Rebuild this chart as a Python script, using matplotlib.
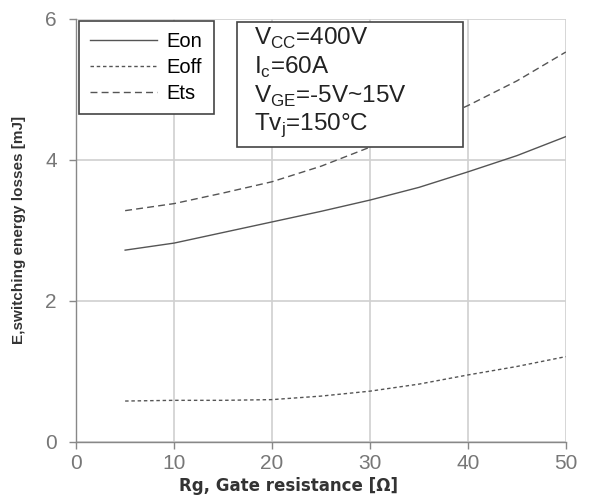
import numpy as np
import matplotlib.pyplot as plt
from matplotlib.patches import Rectangle

# gate resistance [ohm]
rg = [5, 10, 15, 20, 25, 30, 35, 40, 45, 50]
# switching energies [mJ]
eon = [2.72, 2.82, 2.97, 3.12, 3.27, 3.43, 3.61, 3.83, 4.06, 4.33]
eoff = [0.58, 0.59, 0.59, 0.60, 0.65, 0.72, 0.82, 0.95, 1.07, 1.21]
ets = [3.28, 3.38, 3.53, 3.69, 3.91, 4.18, 4.46, 4.77, 5.12, 5.53]

xticks = [0, 10, 20, 30, 40, 50]
yticks = [0, 2, 4, 6]

plt.rcParams['font.family'] = ['Liberation Sans', 'DejaVu Sans']
plt.rcParams['mathtext.fontset'] = 'custom'
plt.rcParams['mathtext.rm'] = 'Liberation Sans'

fig = plt.figure(figsize=(5.95, 4.96), dpi=100)
ax = fig.add_axes([0.128, 0.109, 0.823, 0.853])

lc = '#555555'
ax.plot(rg, eon, color=lc, lw=1.0, ls='-', label='Eon')
ax.plot(rg, eoff, color=lc, lw=1.0, ls=(0, (2.5, 2)), label='Eoff')
ax.plot(rg, ets, color=lc, lw=1.0, ls=(0, (5, 3)), label='Ets')

ax.set_xlim(0, 50)
ax.set_ylim(0, 6)
ax.set_xticks(xticks)
ax.set_yticks(yticks)
ax.grid(True, color='#d0d0d0', lw=1.2)
ax.set_axisbelow(True)
for s in ['top', 'right']:
    ax.spines[s].set_visible(False)
for s in ['left', 'bottom']:
    ax.spines[s].set_color('#888888')
    ax.spines[s].set_linewidth(1.0)
ax.tick_params(colors='#888888', labelcolor='#777777', labelsize=15,
               direction='out', length=5, width=1.0, pad=4)
ax.tick_params(axis='y', pad=9)

ax.set_xlabel('Rg, Gate resistance [Ω]', fontsize=12, fontweight='bold',
              color='#333333', family=['DejaVu Sans'])
ax.xaxis.set_label_coords(0.433, -0.082)
ax.set_ylabel('E,switching energy losses [mJ]', fontsize=11, color='#333333',
              family=['Liberation Sans Narrow', 'Liberation Sans'],
              fontweight='bold', labelpad=14)

leg = ax.legend(loc='upper left', bbox_to_anchor=(0.006, 0.995), fontsize=14.5,
                frameon=True, fancybox=False, edgecolor='#444444',
                framealpha=1, handlelength=3.3, handletextpad=0.5,
                labelspacing=0.35, borderpad=0.55, borderaxespad=0)
leg.get_frame().set_linewidth(1.2)

# conditions box
ax.add_patch(Rectangle((0.329, 0.697), 0.461, 0.296, transform=ax.transAxes,
                       facecolor='white', edgecolor='#444444', lw=1.2, zorder=5))
cond = [r'V$_{\rm CC}$=400V', r'I$_{\rm c}$=60A',
        r'V$_{\rm GE}$=-5V~15V', r'Tv$_{\rm j}$=150°C']
for i, t in enumerate(cond):
    ax.text(0.363, 0.953 - i * 0.068, t, transform=ax.transAxes, fontsize=17.5,
            color='#222222', va='center', ha='left', zorder=6)

fig.savefig('out.png', dpi=100)
